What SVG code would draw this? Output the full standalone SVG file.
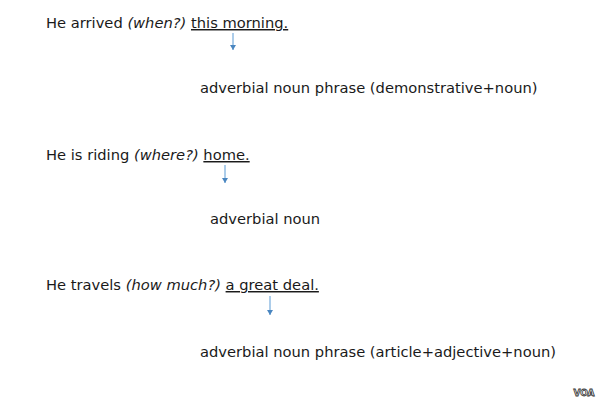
<svg xmlns="http://www.w3.org/2000/svg" width="610" height="413" viewBox="0 0 610 413">
<defs>
<style>
.t{font-family:"DejaVu Sans","Verdana",sans-serif;font-size:14.7px;fill:#1a1a1a}
.i{font-style:italic}
.u{text-decoration:underline}
.c{stroke:#5b9bd5;stroke-width:1;fill:none}
</style>
<marker id="ah" markerWidth="6" markerHeight="6" refX="5" refY="3" orient="auto" markerUnits="userSpaceOnUse">
<path d="M0,0 L5,3 L0,6 Z" fill="#4a86c0"/>
</marker>
</defs>
<rect width="610" height="413" fill="#fff"/>
<g id="s1"><text class="t" x="46" y="28">He arrived <tspan class="i">(when?)</tspan> <tspan class="u">this morning.</tspan></text></g>
<g id="n1"><text class="t" x="200" y="93">adverbial noun phrase (demonstrative+noun)</text></g>
<g id="s2"><text class="t" x="46" y="160">He is riding <tspan class="i">(where?)</tspan> <tspan class="u">home.</tspan></text></g>
<g id="n2"><text class="t" x="210" y="224">adverbial noun</text></g>
<g id="s3"><text class="t" x="46" y="290">He travels <tspan class="i">(how much?)</tspan> <tspan class="u">a great deal.</tspan></text></g>
<g id="n3"><text class="t" x="200" y="357">adverbial noun phrase (article+adjective+noun)</text></g>
<g id="connectors">
<line class="c" x1="233" y1="33" x2="233" y2="50" marker-end="url(#ah)"/>
<line class="c" x1="225" y1="165" x2="225" y2="183" marker-end="url(#ah)"/>
<line class="c" x1="270" y1="296" x2="270" y2="315" marker-end="url(#ah)"/>
</g>
<g id="logo"><text x="584" y="396" text-anchor="middle" font-family="DejaVu Sans,sans-serif" font-size="9" font-weight="bold" fill="#fff" stroke="#333" stroke-width="0.8">VOA</text></g>
</svg>
